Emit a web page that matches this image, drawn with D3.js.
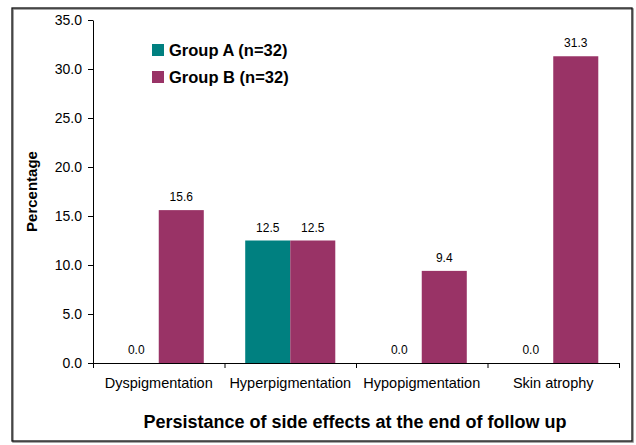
<!DOCTYPE html>
<html><head><meta charset="utf-8">
<script src="https://cdn.jsdelivr.net/npm/d3@7"></script>
<style>body{margin:0;background:#fff}svg{display:block;font-family:"Liberation Sans",Arial,sans-serif}</style>
</head><body><svg id="c" width="636" height="445"></svg>
<script>
const categories = ["Dyspigmentation","Hyperpigmentation","Hypopigmentation","Skin atrophy"];
const seriesNames = ["Group A (n=32)","Group B (n=32)"];
const groupA = [0.0, 12.5, 0.0, 0.0];
const groupB = [15.6, 12.5, 9.4, 31.3];
const yTicks = [0,5,10,15,20,25,30,35];
const colors = ["#008080","#993366"];

const svg = d3.select("#c");
svg.append("rect").attr("x",13).attr("y",9).attr("width",620).attr("height",433)
  .attr("fill","none").attr("stroke","#888").attr("stroke-width",1.5);
svg.append("rect").attr("x",12).attr("y",8).attr("width",620).attr("height",433)
  .attr("fill","none").attr("stroke","#111").attr("stroke-width",1.3);

const m = {l:93, r:619, t:20, b:363};
const x = d3.scaleBand().domain(categories).range([m.l,m.r]).paddingInner(0).paddingOuter(0);
const xs = d3.scaleBand().domain([0,1]).range([0,x.bandwidth()]).paddingInner(0).paddingOuter(0.46);
const y = d3.scaleLinear().domain([0,35]).range([m.b,m.t]);

const data = categories.map((c,i)=>({c, vals:[groupA[i],groupB[i]]}));
const g = svg.append("g");
data.forEach(d=>{
  d.vals.forEach((v,k)=>{
    const bx = x(d.c)+xs(k);
    g.append("rect").attr("x",bx).attr("y",y(v)).attr("width",xs.bandwidth()).attr("height",y(0)-y(v))
      .attr("fill",colors[k]);
    g.append("text").attr("x",bx+xs.bandwidth()/2).attr("y",y(v)-9).attr("text-anchor","middle")
      .attr("font-size",12).attr("fill","#000").text(v.toFixed(1));
  });
});

// y axis
const ya = svg.append("g").attr("transform",`translate(${m.l},0)`)
  .call(d3.axisLeft(y).tickValues(yTicks).tickFormat(d=>d.toFixed(1)).tickSize(5).tickSizeOuter(0));
ya.select(".domain").attr("stroke","#000");
ya.selectAll(".tick line").attr("stroke","#000");
ya.selectAll("text").attr("font-size",14).attr("fill","#000").attr("font-family","Liberation Sans, Arial").attr("dx",-3);

// x axis
const xa = svg.append("g").attr("transform",`translate(0,${m.b})`)
  .call(d3.axisBottom(x).tickSize(0).tickSizeOuter(0));
xa.select(".domain").attr("stroke","#000");
xa.selectAll("text").attr("font-size",14.5).attr("fill","#000").attr("font-family","Liberation Sans, Arial").attr("dy","1.55em");
const bounds = [m.l, ...categories.map(c=>x(c)+x.bandwidth())];
bounds.forEach(b=>svg.append("line").attr("x1",b+0.5).attr("x2",b+0.5).attr("y1",m.b).attr("y2",m.b+5).attr("stroke","#000"));

// titles
svg.append("text").attr("transform",`translate(37,${(m.t+m.b)/2}) rotate(-90)`).attr("text-anchor","middle")
  .attr("font-size",15).attr("font-weight","bold").text("Percentage");
svg.append("text").attr("x",355).attr("y",428).attr("text-anchor","middle")
  .attr("font-size",18).attr("font-weight","bold").text("Persistance of side effects at the end of follow up");

// legend
seriesNames.forEach((s,i)=>{
  const ly = 42 + i*27;
  svg.append("rect").attr("x",152).attr("y",ly+2).attr("width",12).attr("height",12).attr("fill",colors[i]);
  svg.append("text").attr("x",169).attr("y",ly+14).attr("font-size",16.5).attr("font-weight","bold").text(s);
});
</script></body></html>
